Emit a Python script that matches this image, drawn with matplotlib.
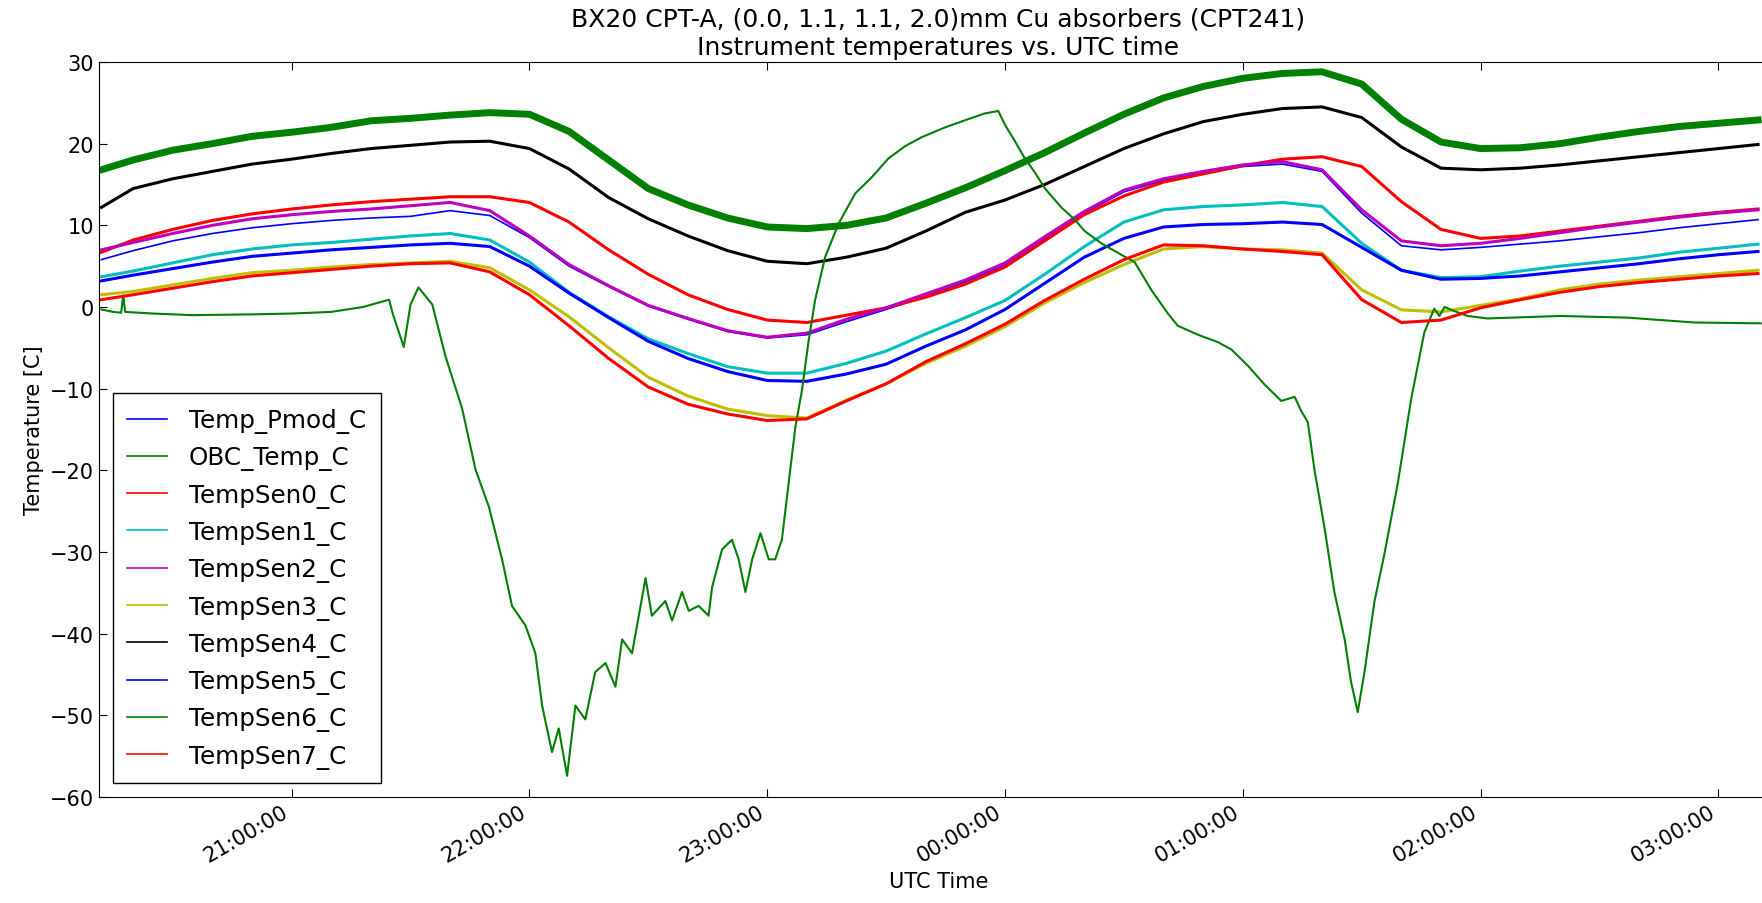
import matplotlib
matplotlib.use('Agg')
import matplotlib.pyplot as plt
import matplotlib.dates as mdates
import pandas as pd

# shared time grid (UTC, crosses midnight)
grid_times = ['20:12', '20:20', '20:30', '20:40', '20:50', '21:00', '21:10', '21:20', '21:30',
              '21:40', '21:50', '22:00', '22:10', '22:20', '22:30', '22:40', '22:50', '23:00',
              '23:10', '23:20', '23:30', '23:40', '23:50', '00:00', '00:10', '00:20', '00:30',
              '00:40', '00:50', '01:00', '01:10', '01:20', '01:30', '01:40', '01:50', '02:00',
              '02:10', '02:20', '02:30', '02:40', '02:50', '03:00', '03:10']

temp_pmod = [5.8, 6.9, 8.1, 9.0, 9.7, 10.2, 10.6, 10.9, 11.1, 11.8, 11.2, 8.5, 5.0, 2.5, 0.1,
             -1.5, -3.0, -3.8, -3.4, -1.8, -0.3, 1.3, 3.1, 5.1, 8.3, 11.5, 14.1, 15.5, 16.4,
             17.2, 17.5, 16.6, 11.5, 7.5, 7.0, 7.3, 7.7, 8.1, 8.6, 9.1, 9.7, 10.2, 10.7]
obc_temp = [16.8, 18.0, 19.2, 20.0, 20.9, 21.4, 22.0, 22.8, 23.1, 23.5, 23.8, 23.6, 21.5, 18.0,
            14.5, 12.5, 10.9, 9.8, 9.6, 10.0, 10.9, 12.7, 14.6, 16.7, 18.9, 21.3, 23.6, 25.6,
            27.0, 28.0, 28.6, 28.8, 27.3, 23.0, 20.2, 19.4, 19.5, 20.0, 20.8, 21.5, 22.1, 22.5, 22.9]
sen0 = [6.7, 8.2, 9.5, 10.6, 11.4, 12.0, 12.5, 12.9, 13.2, 13.5, 13.5, 12.8, 10.4, 7.0, 4.0,
        1.5, -0.3, -1.6, -1.9, -1.0, -0.1, 1.2, 2.8, 4.9, 8.1, 11.3, 13.6, 15.3, 16.3, 17.3,
        18.1, 18.4, 17.2, 12.9, 9.5, 8.4, 8.7, 9.3, 9.9, 10.5, 11.1, 11.6, 12.0]
sen1 = [3.7, 4.4, 5.4, 6.4, 7.1, 7.6, 7.9, 8.3, 8.7, 9.0, 8.2, 5.5, 1.8, -1.2, -3.9, -5.7,
        -7.3, -8.1, -8.1, -6.9, -5.4, -3.3, -1.3, 0.8, 4.0, 7.4, 10.4, 11.9, 12.3, 12.5, 12.8,
        12.3, 7.8, 4.5, 3.6, 3.7, 4.4, 5.0, 5.5, 6.0, 6.7, 7.2, 7.7]
sen2 = [7.0, 7.9, 9.0, 10.0, 10.8, 11.3, 11.7, 12.0, 12.4, 12.8, 11.8, 8.7, 5.2, 2.6, 0.2,
        -1.4, -2.9, -3.7, -3.2, -1.5, -0.1, 1.6, 3.3, 5.4, 8.6, 11.7, 14.3, 15.7, 16.6, 17.4,
        17.8, 16.8, 11.9, 8.1, 7.5, 7.8, 8.4, 9.1, 9.8, 10.4, 11.0, 11.5, 11.9]
sen3 = [1.5, 1.9, 2.7, 3.5, 4.2, 4.5, 4.9, 5.2, 5.4, 5.6, 4.8, 2.1, -1.2, -5.0, -8.6, -10.9,
        -12.5, -13.3, -13.6, -11.4, -9.4, -6.9, -4.8, -2.4, 0.5, 3.0, 5.2, 7.1, 7.4, 7.1, 7.0,
        6.6, 2.1, -0.35, -0.6, 0.2, 1.0, 2.1, 2.8, 3.3, 3.7, 4.1, 4.5]
sen4 = [12.2, 14.5, 15.7, 16.6, 17.5, 18.1, 18.8, 19.4, 19.8, 20.2, 20.3, 19.4, 16.9, 13.4,
        10.8, 8.7, 6.9, 5.6, 5.3, 6.1, 7.2, 9.3, 11.6, 13.1, 15.0, 17.2, 19.4, 21.2, 22.7, 23.6,
        24.3, 24.5, 23.2, 19.6, 17.0, 16.8, 17.0, 17.4, 17.9, 18.4, 18.9, 19.4, 19.9]
sen5 = [3.2, 3.9, 4.7, 5.5, 6.2, 6.6, 7.0, 7.3, 7.6, 7.8, 7.4, 5.0, 1.7, -1.3, -4.2, -6.3,
        -7.9, -9.0, -9.1, -8.2, -7.0, -4.8, -2.8, -0.3, 2.9, 6.1, 8.4, 9.8, 10.1, 10.2, 10.4,
        10.1, 7.3, 4.5, 3.4, 3.5, 3.8, 4.3, 4.8, 5.3, 5.9, 6.4, 6.8]
sen7 = [0.9, 1.5, 2.3, 3.1, 3.8, 4.2, 4.6, 5.0, 5.3, 5.4, 4.3, 1.5, -2.3, -6.3, -9.8, -11.9,
        -13.1, -13.9, -13.7, -11.5, -9.4, -6.7, -4.5, -2.1, 0.8, 3.4, 5.8, 7.6, 7.5, 7.1, 6.8,
        6.4, 0.9, -1.9, -1.6, -0.1, 0.9, 1.8, 2.5, 3.0, 3.4, 3.8, 4.1]

# external sensor, read at its own (denser) times
sen6_times = ['20:12:00', '20:15:00', '20:17:00', '20:17:30', '20:18:00', '20:25:00', '20:35:00',
              '20:50:00', '21:00:00', '21:10:00', '21:18:00', '21:24:36', '21:25:30', '21:28:18',
              '21:30:00', '21:32:00', '21:35:30', '21:38:48', '21:43:00', '21:46:24', '21:49:48',
              '21:53:06', '21:55:36', '21:59:00', '22:01:30', '22:03:12', '22:05:42', '22:07:24',
              '22:09:30', '22:11:36', '22:14:06', '22:16:36', '22:19:12', '22:21:42', '22:23:24',
              '22:25:54', '22:29:18', '22:30:54', '22:34:18', '22:36:00', '22:38:30', '22:40:12',
              '22:42:42', '22:45:12', '22:46:06', '22:48:36', '22:51:06', '22:52:48', '22:54:30',
              '22:56:12', '22:58:18', '23:00:24', '23:02:00', '23:03:42', '23:05:24', '23:07:06',
              '23:08:48', '23:10:24', '23:12:06', '23:14:36', '23:18:00', '23:22:12', '23:26:24',
              '23:30:36', '23:34:48', '23:39:00', '23:44:54', '23:50:42', '23:54:54', '23:58:18',
              '00:00:00', '00:02:30', '00:05:00', '00:07:30', '00:10:06', '00:14:12', '00:17:36',
              '00:20:06', '00:24:18', '00:29:18', '00:32:42', '00:36:54', '00:41:06', '00:43:36',
              '00:48:42', '00:53:42', '00:57:06', '01:01:18', '01:05:30', '01:09:42', '01:13:06',
              '01:14:42', '01:16:24', '01:18:06', '01:20:36', '01:23:06', '01:25:42', '01:27:18',
              '01:29:00', '01:30:42', '01:33:12', '01:35:42', '01:39:06', '01:42:30', '01:45:48',
              '01:48:18', '01:49:36', '01:50:54', '01:53:24', '01:56:42', '02:01:48', '02:20:00',
              '02:37:00', '02:54:00', '03:10:42']
sen6 = [-0.3, -0.6, -0.7, 1.4, -0.6, -0.8, -1.0, -0.9, -0.8, -0.6, 0.0, 0.9, -0.8, -4.9,
        0.3, 2.4, 0.3, -6.0, -12.4, -19.9, -24.5, -30.9, -36.6, -39.0, -42.4, -48.8, -54.5,
        -51.6, -57.4, -48.8, -50.5, -44.7, -43.6, -46.5, -40.7, -42.4, -33.2, -37.8, -36.0,
        -38.4, -34.9, -37.2, -36.6, -37.8, -34.3, -29.7, -28.5, -30.9, -34.9, -30.9, -27.7,
        -30.9, -30.9, -28.5, -21.6, -14.7, -10.1, -4.3, 0.9, 6.1, 10.2, 13.9, 15.9, 18.2, 19.7,
        20.8, 22.0, 23.0, 23.7, 24.0, 22.3, 20.3, 18.2, 16.5, 14.5, 12.2, 10.7, 9.3, 7.8, 6.4,
        5.5, 2.1, -0.8, -2.3, -3.4, -4.3, -5.2, -7.2, -9.5, -11.5, -11.0, -12.7, -14.1, -20.0,
        -27.0, -34.9, -40.7, -45.9, -49.6, -44.7, -36.1, -30.3, -21.6, -11.2, -3.1, -0.2, -1.1,
        0.0, -0.5, -1.1, -1.4, -1.1, -1.3, -1.9, -2.0]

yticks = [-60, -50, -40, -30, -20, -10, 0, 10, 20, 30]


def to_dt(labels):
    t = pd.to_datetime(['2017-01-01 ' + s for s in labels])
    # times after midnight belong to the next day
    return t + pd.to_timedelta([1 if x.hour < 12 else 0 for x in t], unit='D')


tg = to_dt(grid_times)
t6 = to_dt(sen6_times)

xmin = pd.Timestamp('2017-01-01 20:11:24')
xmax = pd.Timestamp('2017-01-02 03:15:00')
hours = (xmax - xmin).total_seconds() / 3600.0

fig = plt.figure(figsize=(17.62, 9.04), dpi=100)
ax = fig.add_axes([99 / 1762, 106 / 904, hours * 237.8 / 1762, 735 / 904])

ax.plot(tg, temp_pmod, color='#0000ff', lw=1.2, label='Temp_Pmod_C')
ax.plot(tg, obc_temp, color='#008000', lw=5, label='OBC_Temp_C')
ax.plot(tg, sen0, color='#ff0000', lw=2.2, label='TempSen0_C')
ax.plot(tg, sen1, color='#00bfbf', lw=2.2, label='TempSen1_C')
ax.plot(tg, sen2, color='#bf00bf', lw=2.2, label='TempSen2_C')
ax.plot(tg, sen3, color='#bfbf00', lw=2.2, label='TempSen3_C')
ax.plot(tg, sen4, color='#000000', lw=2.2, label='TempSen4_C')
ax.plot(tg, sen5, color='#0000ff', lw=2.2, label='TempSen5_C')
ax.plot(t6, sen6, color='#008000', lw=1.5, label='TempSen6_C')
ax.plot(tg, sen7, color='#ff0000', lw=2.2, label='TempSen7_C')

ax.set_xlim(xmin, xmax)
ax.set_ylim(-60, 30)
ax.set_yticks(yticks)
ax.xaxis.set_major_locator(mdates.HourLocator())
ax.xaxis.set_major_formatter(mdates.DateFormatter('%H:%M:%S'))
ax.tick_params(direction='in', top=True, right=True, length=6, labelsize=15)
for lab in ax.get_xticklabels():
    lab.set_rotation(30)
    lab.set_ha('right')

ax.set_xlabel('UTC Time', fontsize=15)
ax.set_ylabel('Temperature [C]', fontsize=15)
ax.set_title('BX20 CPT-A, (0.0, 1.1, 1.1, 2.0)mm Cu absorbers (CPT241)\n'
             'Instrument temperatures vs. UTC time', fontsize=18)

leg = ax.legend(loc='lower left', fontsize=17.7, fancybox=False, framealpha=1,
                edgecolor='black', handlelength=1.6, handletextpad=0.9,
                labelspacing=0.5, borderpad=0.6, borderaxespad=0.55)
for line in leg.get_lines():
    line.set_linewidth(1.2)

fig.savefig('out.png', dpi=100)
